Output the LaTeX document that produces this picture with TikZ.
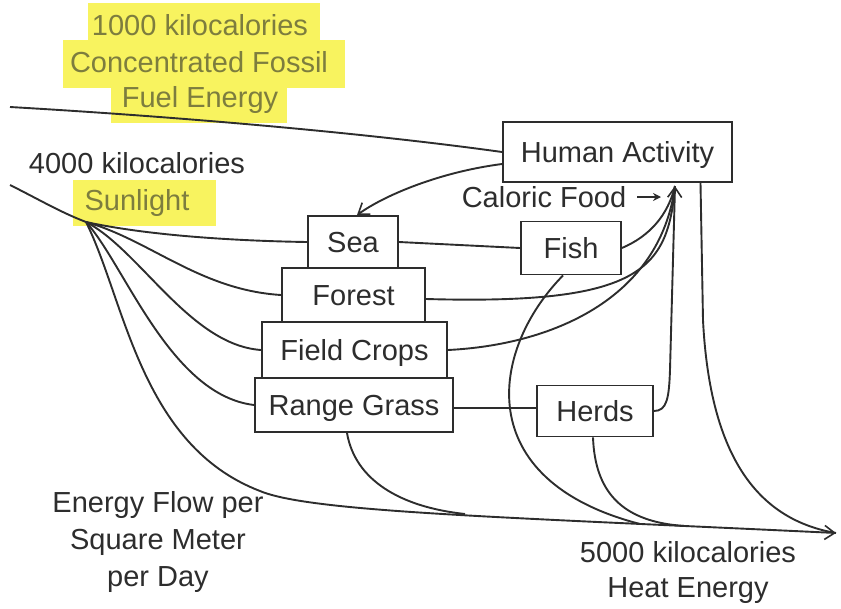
\documentclass[tikz,border=0pt]{standalone}
\usepackage{fontspec}
\setmainfont{Liberation Sans}
\usetikzlibrary{arrows.meta,calc}
\definecolor{ink}{RGB}{45,45,45}
\definecolor{hl}{RGB}{248,243,95}
\definecolor{hltext}{RGB}{125,125,62}
\begin{document}
\begin{tikzpicture}[x=1pt,y=-1pt,
  lbl/.style={font=\fontsize{29}{37}\selectfont, text=ink, inner sep=0pt, anchor=base},
  hlbl/.style={lbl, text=hltext},
  box/.style={draw=ink, line width=1.9pt, fill=white, font=\fontsize{29}{37}\selectfont, text=ink, text height=20.5pt, text depth=0pt, inner sep=0pt},
  flow/.style={draw=ink, line width=1.9pt},
  barb/.style={-{Straight Barb[length=10pt,width=14pt,line width=1.6pt]}},
  hlrect/.style={fill=hl, draw=none}
]
\useasboundingbox (0,0) rectangle (841,608);

% highlights
\fill[hlrect] (88,3) rectangle (320,47);
\fill[hlrect] (63,40) rectangle (345,88);
\fill[hlrect] (111,79) rectangle (287,123);
\fill[hlrect] (73,180) rectangle (216,226);

% texts
\node[hlbl] (t1) at (200,35) {1000 kilocalories};
\node[hlbl] (t2) at (199,72) {Concentrated Fossil};
\node[hlbl] (t3) at (200,107) {Fuel Energy};
\node[lbl] (t4) at (137,173) {4000 kilocalories};
\node[hlbl] (t5) at (137,210) {Sunlight};
\node[lbl] (cal) at (544,207) {Caloric Food};
\node[lbl, align=center] (efl) at (158,586) {Energy Flow per\\Square Meter\\per Day};
\node[lbl, align=center] (heat) at (688,597) {5000 kilocalories\\[-2pt]Heat Energy};

% boxes
\node[box, minimum width=229pt, minimum height=60pt] (ha) at (617.5,152) {Human Activity};
\node[box, minimum width=90pt, minimum height=52pt] (sea) at (353,242) {Sea};
\node[box, minimum width=143pt, minimum height=54pt] (forest) at (353.5,295) {Forest};
\node[box, minimum width=185pt, minimum height=56pt] (crops) at (354.5,350) {Field Crops};
\node[box, minimum width=198pt, minimum height=54pt] (range) at (354,405) {Range Grass};
\node[box, minimum width=100pt, minimum height=53pt] (fish) at (571,248) {Fish};
\node[box, minimum width=116pt, minimum height=51pt] (herds) at (595,411) {Herds};

% coordinates
\coordinate (fossrc) at (10,107);
\coordinate (sunsrc) at (10,185);
\coordinate (sunj) at (86,222);
\coordinate (heatend) at (836,533);
\coordinate (foodtip) at (675,186);
\coordinate (hmerge) at (260,491);
\coordinate (cfa) at (637,197);
\coordinate (cfb) at (661,197);
\coordinate (jr) at (465,514);
\coordinate (jf) at (640,524);
\coordinate (jh) at (685,526);

% inputs
\draw[flow] (fossrc) .. controls (200,118) and (380,135) .. (ha.west);
\draw[flow] (sunsrc) .. controls (40,200) and (60,212) .. (sunj);

% sunlight fan
\draw[flow] (sunj) .. controls (150,236) and (240,241) .. (sea.west);
\draw[flow] (sunj) .. controls (150,240) and (200,290) .. (forest.west);
\draw[flow] (sunj) .. controls (140,250) and (190,345) .. (crops.west);
\draw[flow] (sunj) .. controls (125,265) and (170,395) .. (range.west);
\draw[flow,barb] (sunj) .. controls (125,300) and (140,445) .. (hmerge) .. controls (310,512) and (500,517) .. (heatend);

% human activity to sea
\draw[flow,barb] ($(ha.west)+(0,12)$) .. controls (440,172) and (385,195) .. ($(sea.north)+(4,0)$);

% horizontal links
\draw[flow] (sea.east) -- (fish.west);
\draw[flow] ($(range.east)+(0,3)$) -- ($(herds.west)+(0,-3)$);

% caloric food
\draw[flow] (fish.east) .. controls (650,236) and (668,215) .. (foodtip);
\draw[flow] ($(forest.east)+(0,4)$) .. controls (640,305) and (668,270) .. (foodtip);
\draw[flow] (crops.east) .. controls (550,345) and (660,300) .. (foodtip);
\draw[flow,barb] (herds.east) .. controls (667,411) and (669,398) .. (670,370) -- (foodtip);
\draw[flow, line width=1.6pt, -{Stealth[length=8pt,width=8pt]}] (cfa) -- (cfb);

% heat losses
\draw[flow] ($(ha.south)+(83,0)$) -- (703,320) .. controls (710,460) and (760,520) .. (heatend);
\draw[flow] ($(fish.south)+(-8,0)$) .. controls (490,350) and (470,480) .. (jf);
\draw[flow] ($(herds.south)+(-2,0)$) .. controls (595,490) and (620,522) .. (jh);
\draw[flow] ($(range.south)+(-7,0)$) .. controls (355,480) and (400,507) .. (jr);
\end{tikzpicture}
\end{document}
